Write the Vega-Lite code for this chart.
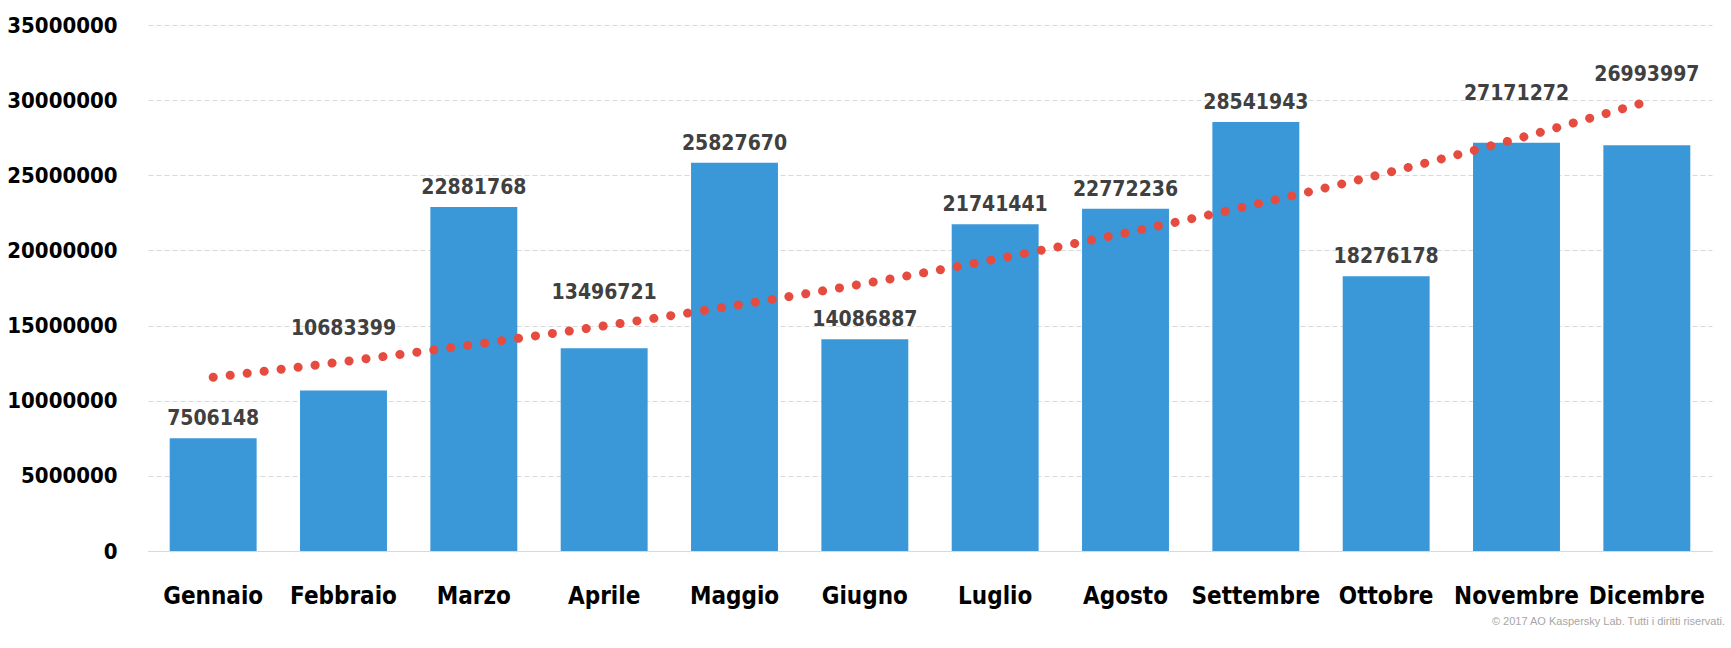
{
  "$schema": "https://vega.github.io/schema/vega-lite/v6.json",
  "description": "Monthly totals 2017 with exponential trend (Kaspersky Lab).",
  "autosize": "none",
  "width": 1564,
  "height": 526,
  "padding": {"left": 148, "top": 25, "right": 19, "bottom": 97},
  "background": "white",
  "config": {
    "view": {"stroke": null},
    "font": "DejaVu Sans Condensed, Roboto, sans-serif"
  },
  "title": {
    "text": "© 2017 AO Kaspersky Lab. Tutti i diritti riservati.",
    "orient": "bottom",
    "anchor": "end",
    "frame": "group",
    "font": "Liberation Sans",
    "fontSize": 11,
    "fontWeight": "normal",
    "color": "#a6a6a6",
    "offset": 8,
    "dx": 13
  },
  "datasets": {
    "months": [
      {"mese": "Gennaio", "valore": 7506148, "trend": 11560000},
      {"mese": "Febbraio", "valore": 10683399, "trend": 12600000},
      {"mese": "Marzo", "valore": 22881768, "trend": 13740000},
      {"mese": "Aprile", "valore": 13496721, "trend": 14980000},
      {"mese": "Maggio", "valore": 25827670, "trend": 16330000},
      {"mese": "Giugno", "valore": 14086887, "trend": 17800000},
      {"mese": "Luglio", "valore": 21741441, "trend": 19410000},
      {"mese": "Agosto", "valore": 22772236, "trend": 21160000},
      {"mese": "Settembre", "valore": 28541943, "trend": 23070000},
      {"mese": "Ottobre", "valore": 18276178, "trend": 25150000},
      {"mese": "Novembre", "valore": 27171272, "trend": 27420000},
      {"mese": "Dicembre", "valore": 26993997, "trend": 29900000}
    ]
  },
  "data": {"name": "months"},
  "encoding": {
    "x": {
      "field": "mese",
      "type": "nominal",
      "sort": null,
      "scale": {"paddingInner": 0.333, "paddingOuter": 0.1665},
      "axis": {
        "title": null,
        "labelAngle": 0,
        "labelFont": "DejaVu Sans Condensed, Roboto, sans-serif",
        "labelFontSize": 24,
        "labelFontWeight": "bold",
        "labelColor": "#000000",
        "labelBaseline": "alphabetic",
        "labelPadding": 52,
        "ticks": false,
        "domainColor": "#d9d9d9",
        "domainWidth": 1
      }
    }
  },
  "layer": [
    {
      "mark": {"type": "bar", "color": "#3a98d9"},
      "encoding": {
        "y": {
          "field": "valore",
          "type": "quantitative",
          "scale": {"domain": [0, 35000000], "nice": false},
          "axis": {
            "title": null,
            "values": [0, 5000000, 10000000, 15000000, 20000000, 25000000, 30000000, 35000000],
            "format": "d",
            "labelFont": "DejaVu Sans Condensed, Roboto, sans-serif",
            "labelFontSize": 22,
            "labelFontWeight": "bold",
            "labelColor": "#000000",
            "labelPadding": 31,
            "domain": false,
            "ticks": false,
            "gridColor": "#d9d9d9",
            "gridDash": [5, 3],
            "gridWidth": 1
          }
        }
      }
    },
    {
      "transform": [{"filter": {"field": "mese", "oneOf": ["Gennaio", "Marzo", "Maggio", "Giugno", "Luglio", "Agosto", "Settembre", "Ottobre"]}}],
      "mark": {"type": "text", "baseline": "alphabetic", "dy": -13, "fontSize": 21, "fontWeight": "bold", "color": "#404040"},
      "encoding": {
        "y": {"field": "valore", "type": "quantitative"},
        "text": {"field": "valore", "type": "quantitative", "format": "d"}
      }
    },
    {
      "transform": [{"filter": {"field": "mese", "equal": "Febbraio"}}],
      "mark": {"type": "text", "baseline": "alphabetic", "dy": -55, "fontSize": 21, "fontWeight": "bold", "color": "#404040"},
      "encoding": {
        "y": {"field": "valore", "type": "quantitative"},
        "text": {"field": "valore", "type": "quantitative", "format": "d"}
      }
    },
    {
      "transform": [{"filter": {"field": "mese", "equal": "Aprile"}}],
      "mark": {"type": "text", "baseline": "alphabetic", "dy": -49, "fontSize": 21, "fontWeight": "bold", "color": "#404040"},
      "encoding": {
        "y": {"field": "valore", "type": "quantitative"},
        "text": {"field": "valore", "type": "quantitative", "format": "d"}
      }
    },
    {
      "transform": [{"filter": {"field": "mese", "equal": "Novembre"}}],
      "mark": {"type": "text", "baseline": "alphabetic", "dy": -43, "fontSize": 21, "fontWeight": "bold", "color": "#404040"},
      "encoding": {
        "y": {"field": "valore", "type": "quantitative"},
        "text": {"field": "valore", "type": "quantitative", "format": "d"}
      }
    },
    {
      "transform": [{"filter": {"field": "mese", "equal": "Dicembre"}}],
      "mark": {"type": "text", "baseline": "alphabetic", "dy": -64, "fontSize": 21, "fontWeight": "bold", "color": "#404040"},
      "encoding": {
        "y": {"field": "valore", "type": "quantitative"},
        "text": {"field": "valore", "type": "quantitative", "format": "d"}
      }
    },
    {
      "mark": {
        "type": "line",
        "interpolate": "monotone",
        "color": "#e64b3f",
        "strokeWidth": 9,
        "strokeCap": "round",
        "strokeDash": [0.1, 17]
      },
      "encoding": {
        "y": {"field": "trend", "type": "quantitative"}
      }
    }
  ]
}
